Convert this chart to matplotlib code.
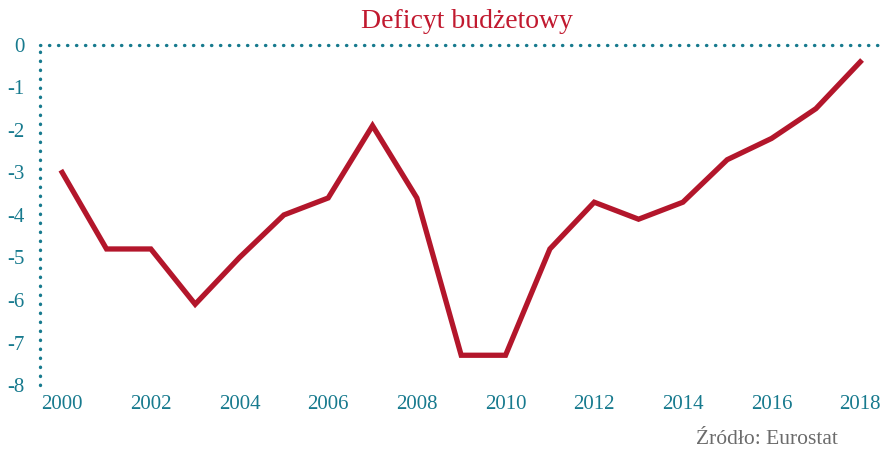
import matplotlib.pyplot as plt

years = list(range(2000, 2019))
deficit = [-3.0, -4.8, -4.8, -6.1, -5.0, -4.0, -3.6, -1.9, -3.6, -7.3,
           -7.3, -4.8, -3.7, -4.1, -3.7, -2.7, -2.2, -1.5, -0.4]
xticks = list(range(2000, 2019, 2))
yticks = list(range(-8, 1))

TEAL = "#177a8e"
RED = "#b3162b"

plt.rcParams["font.family"] = ["Liberation Serif", "DejaVu Serif"]
plt.rcParams["axes.unicode_minus"] = False

fig = plt.figure(figsize=(8.83, 4.49), dpi=100)
ax = fig.add_axes([0.0453, 0.1425, 0.949, 0.7575])

ax.plot(years, deficit, color=RED, linewidth=3.8, solid_joinstyle="miter")

ax.set_xlim(1999.5, 2018.4)
ax.set_ylim(-8, 0)
ax.set_xticks(xticks)
ax.set_yticks(yticks)
ax.tick_params(length=0, colors=TEAL, labelsize=15)
ax.tick_params(axis="x", pad=7)
ax.tick_params(axis="y", pad=11)

for side in ["right", "bottom"]:
    ax.spines[side].set_visible(False)
for side in ["left", "top"]:
    sp = ax.spines[side]
    sp.set_color(TEAL)
    sp.set_linewidth(2.4)
    sp.set_linestyle((0, (0.1, 2.6)))
    sp.set_capstyle("round")

fig.text(0.529, 0.952, "Deficyt budżetowy", color="#c1192f", fontsize=20,
         ha="center", va="center")
fig.text(0.949, 0.0, "Źródło: Eurostat", color="#6b6b6b", fontsize=15.5,
         ha="right", va="bottom")

fig.savefig("out.png", dpi=100)
